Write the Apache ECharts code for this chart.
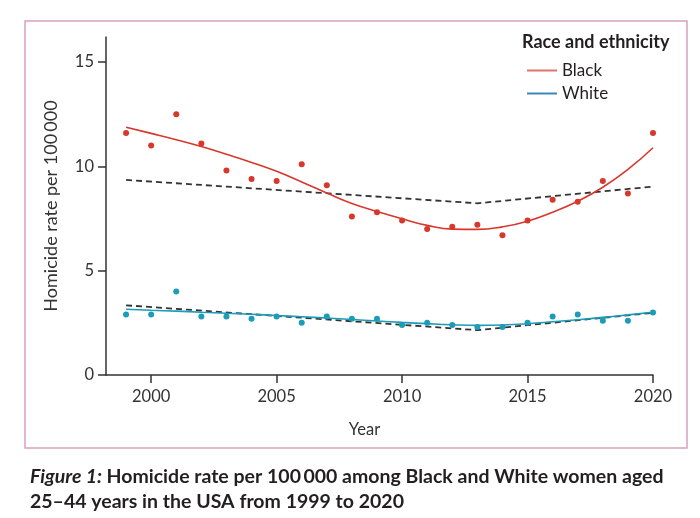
<!DOCTYPE html>
<html><head><meta charset="utf-8">
<script src="https://cdn.jsdelivr.net/npm/echarts@6/dist/echarts.min.js"></script>
<style>html,body{margin:0;padding:0;background:#fff;}#c{width:700px;height:518px;}</style>
</head><body><div id="c"></div>
<script>
const years = [1999,2000,2001,2002,2003,2004,2005,2006,2007,2008,2009,2010,2011,2012,2013,2014,2015,2016,2017,2018,2019,2020];
const blackObserved = [11.6,11.0,12.5,11.1,9.8,9.4,9.3,10.1,9.1,7.6,7.8,7.4,7.0,7.1,7.2,6.7,7.4,8.4,8.3,9.3,8.7,11.6];
const blackFitted = [11.87,11.58,11.28,10.95,10.58,10.19,9.76,9.25,8.72,8.22,7.84,7.49,7.17,6.99,6.98,7.1,7.37,7.8,8.33,9.0,9.85,10.89];
const whiteObserved = [2.9,2.9,4.0,2.8,2.8,2.7,2.8,2.5,2.8,2.7,2.7,2.4,2.5,2.4,2.3,2.3,2.5,2.8,2.9,2.6,2.6,3.0];
const whiteFitted = [3.15,3.10,3.06,3.01,2.96,2.91,2.85,2.79,2.73,2.66,2.59,2.52,2.46,2.41,2.38,2.40,2.46,2.55,2.65,2.76,2.88,3.01];
const trendYears = [1999,2013,2020];
const blackTrend = [9.35,8.23,9.03];
const whiteTrend = [3.34,2.15,2.98];
const xTicks = [2000,2005,2010,2015,2020];
const yTicks = [0,5,10,15];

const pair = (xs, ys) => xs.map((x, i) => [x, ys[i]]);
const RED = '#d8372c', TEAL = '#1b9cb8';
const FONT = 'Lato, "Open Sans", sans-serif';

const chart = echarts.init(document.getElementById('c'), null, {renderer: 'canvas'});
chart.setOption({
  animation: false,
  backgroundColor: '#fff',
  textStyle: {fontFamily: FONT},
  grid: {left: 106, right: 47, top: 37, bottom: 143},
  title: {
    left: 25, top: 459,
    text: '{i|Figure 1:} {b|Homicide rate per 100\u2009000 among Black and White women aged}\n{b|25\u201344 years in the USA from 1999 to 2020}',
    textStyle: {
      rich: {
        i: {fontFamily: FONT, fontStyle: 'italic', fontWeight: 'bold', fontSize: 19.5, color: '#231f20', lineHeight: 25},
        b: {fontFamily: FONT, fontWeight: 'bold', fontSize: 19.5, color: '#231f20', lineHeight: 25}
      }
    }
  },
  graphic: [
    {type: 'rect', shape: {x: 25, y: 21, width: 662, height: 427}, style: {fill: 'none', stroke: '#d6a2c0', lineWidth: 1.5}, silent: true, z: -1},
    {type: 'text', left: 522, top: 33, style: {text: 'Race and ethnicity', font: 'bold 18px ' + FONT, fill: '#231f20'}}
  ],
  legend: {
    orient: 'vertical', left: 522, top: 57, itemGap: 6,
    itemWidth: 30, itemHeight: 2, icon: 'rect',
    textStyle: {fontFamily: FONT, fontSize: 17, color: '#231f20'},
    data: [
      {name: 'Black', itemStyle: {color: '#e0746a'}},
      {name: 'White', itemStyle: {color: '#3a88b5'}}
    ]
  },
  xAxis: {
    type: 'value', min: 1998.2, max: 2020,
    name: 'Year', nameLocation: 'middle', nameGap: 46,
    nameTextStyle: {fontFamily: FONT, fontSize: 16.5, color: '#333', padding: [0, 30, 0, 0]},
    axisLine: {show: true, lineStyle: {color: '#333', width: 1.5}},
    axisTick: {show: true, length: 8, lineStyle: {color: '#333', width: 1.5}, customValues: xTicks},
    axisLabel: {fontFamily: FONT, fontSize: 16.5, color: '#333', margin: 13, customValues: xTicks, formatter: v => String(v)},
    splitLine: {show: false}
  },
  yAxis: {
    type: 'value', min: 0, max: 16.2,
    name: 'Homicide rate per 100\u2009000', nameLocation: 'middle', nameGap: 46, nameRotate: 90,
    nameTextStyle: {fontFamily: FONT, fontSize: 18, color: '#333'},
    axisLine: {show: true, lineStyle: {color: '#333', width: 1.5}},
    axisTick: {show: true, length: 8, lineStyle: {color: '#333', width: 1.5}, customValues: yTicks},
    axisLabel: {fontFamily: FONT, fontSize: 16.5, color: '#333', margin: 12, customValues: yTicks},
    splitLine: {show: false}
  },
  series: [
    {name: 'Black trend', type: 'line', data: pair(trendYears, blackTrend), symbol: 'none',
     lineStyle: {color: '#333', width: 1.8, type: [6, 4]}, z: 3},
    {name: 'White trend', type: 'line', data: pair(trendYears, whiteTrend), symbol: 'none',
     lineStyle: {color: '#333', width: 1.8, type: [6, 4]}, z: 3},
    {name: 'Black', type: 'line', data: pair(years, blackFitted), smooth: true, symbol: 'none',
     itemStyle: {color: RED}, lineStyle: {color: RED, width: 1.6}, z: 4},
    {name: 'White', type: 'line', data: pair(years, whiteFitted), smooth: true, symbol: 'none',
     itemStyle: {color: TEAL}, lineStyle: {color: TEAL, width: 1.6}, z: 4},
    {name: 'Black observed', type: 'scatter', data: pair(years, blackObserved), symbolSize: 6,
     itemStyle: {color: RED, opacity: 1}, z: 5},
    {name: 'White observed', type: 'scatter', data: pair(years, whiteObserved), symbolSize: 6,
     itemStyle: {color: TEAL, opacity: 1}, z: 5}
  ]
});
</script></body></html>
